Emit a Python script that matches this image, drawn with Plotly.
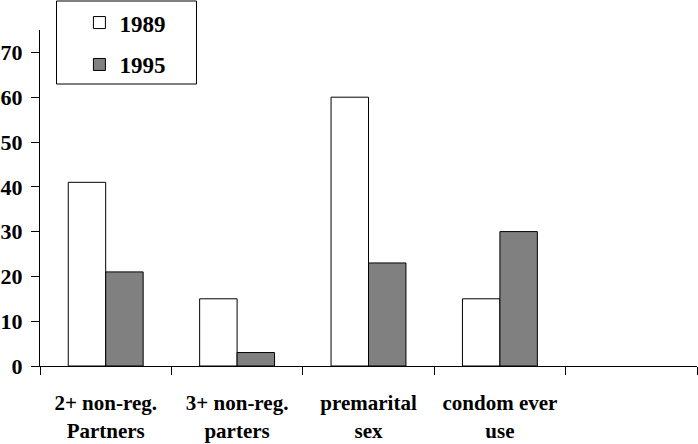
import plotly.graph_objects as go

categories = ["2+ non-reg.<br>Partners", "3+ non-reg.<br>parters", "premarital<br>sex", "condom ever<br>use", " "]
values_1989 = [41, 15, 60, 15, None]
values_1995 = [21, 3, 23, 30, None]
y_ticks = [0, 10, 20, 30, 40, 50, 60, 70]

font_family = "Liberation Serif, Times New Roman, serif"

fig = go.Figure()
fig.add_trace(go.Bar(
    x=categories, y=values_1989, name="1989", legendgroup="a",
    marker=dict(color="white", line=dict(color="black", width=1)),
))
fig.add_trace(go.Bar(
    x=categories, y=values_1995, name="1995", legendgroup="b",
    marker=dict(color="#808080", line=dict(color="black", width=1)),
))

fig.update_layout(
    width=698, height=444,
    margin=dict(l=40, r=1, t=30, b=78, autoexpand=False),
    plot_bgcolor="white", paper_bgcolor="white",
    barmode="group", bargap=0.43, bargroupgap=0,
    font=dict(family=font_family, color="black", weight="bold"),
    showlegend=True,
    legend=dict(
        x=0.06, y=1.086, xanchor="left", yanchor="top",
        font=dict(size=23, family=font_family, color="black", weight="bold"),
        tracegroupgap=9, traceorder="grouped",
        bgcolor="rgba(0,0,0,0)", borderwidth=0,
    ),
    shapes=[dict(
        type="rect", xref="paper", yref="paper",
        x0=(56.5 - 40) / 657, x1=(196.5 - 40) / 657,
        y0=1 + (30 - 84) / 336, y1=1 + (30 - 1) / 336,
        line=dict(color="black", width=1), fillcolor="rgba(0,0,0,0)",
    )],
    xaxis=dict(
        type="category", categoryorder="array", categoryarray=categories,
        showline=True, linecolor="black", linewidth=1,
        ticks="outside", ticklen=8, tickcolor="black", tickson="boundaries",
        tickfont=dict(size=21, family=font_family, color="black", weight="bold"),
        ticklabelstandoff=18,
        showgrid=False, zeroline=False, automargin=False,
    ),
    yaxis=dict(
        range=[0, 75], tickvals=y_ticks,
        showline=True, linecolor="black", linewidth=1,
        ticks="outside", ticklen=8, tickcolor="black",
        tickfont=dict(size=22, family=font_family, color="black", weight="bold"),
        ticklabelstandoff=4,
        showgrid=False, zeroline=False, automargin=False,
    ),
)

fig.write_html(
    "out.html",
    config={"displayModeBar": False},
    post_script="document.body.style.margin='0';document.body.style.padding='0';",
)
